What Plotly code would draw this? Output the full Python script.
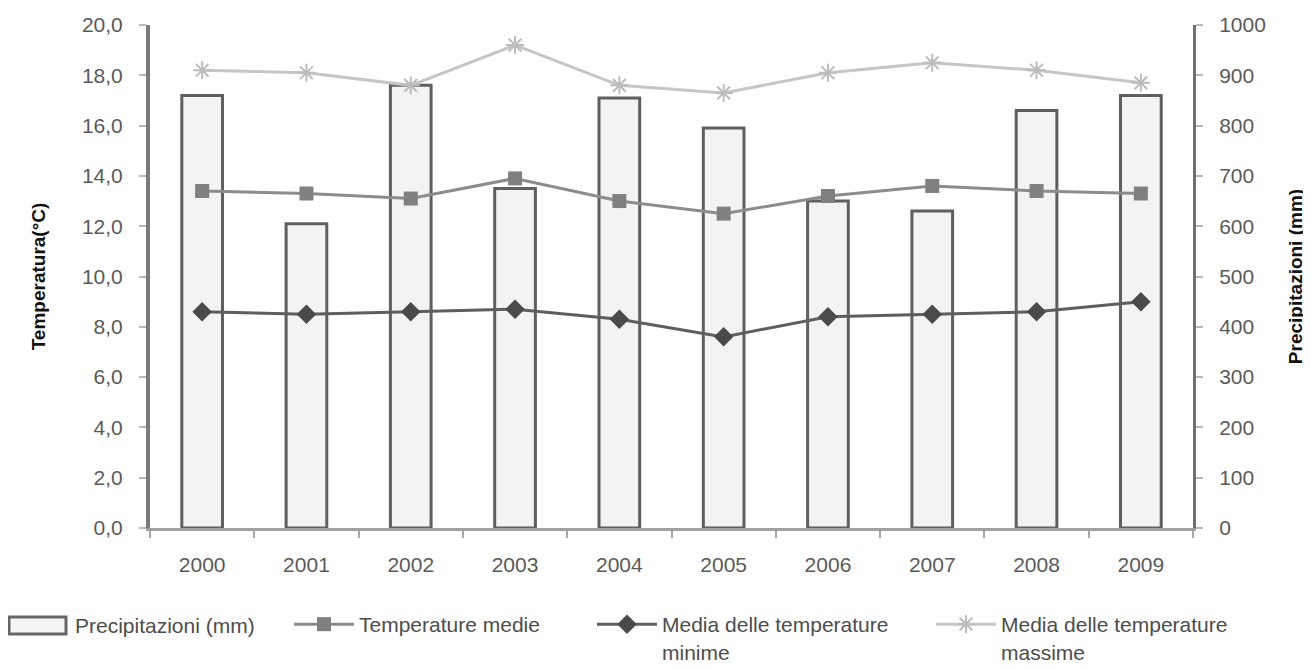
import plotly.graph_objects as go

years = ["2000", "2001", "2002", "2003", "2004", "2005", "2006", "2007", "2008", "2009"]
precipitazioni = [860, 605, 880, 675, 855, 795, 650, 630, 830, 860]
temp_medie = [13.4, 13.3, 13.1, 13.9, 13.0, 12.5, 13.2, 13.6, 13.4, 13.3]
temp_minime = [8.6, 8.5, 8.6, 8.7, 8.3, 7.6, 8.4, 8.5, 8.6, 9.0]
temp_massime = [18.2, 18.1, 17.6, 19.2, 17.6, 17.3, 18.1, 18.5, 18.2, 17.7]

left_ticks = [0, 2, 4, 6, 8, 10, 12, 14, 16, 18, 20]
right_ticks = [0, 100, 200, 300, 400, 500, 600, 700, 800, 900, 1000]

FONT = "Liberation Sans, Arial, sans-serif"
W, H = 1311, 669
OFF = 8  # page body margin offset
L, R, T, B = 142, 126, 17, 149
PW, PH = W - L - R, H - T - B


def px_x(sx):
    return (sx - OFF - L) / PW


def px_y(sy):
    return (H - B - (sy - OFF)) / PH


def leg_x(text_screen_x):
    return (text_screen_x - 79 - L) / PW


fig = go.Figure()
fig.add_trace(go.Bar(
    x=years, y=precipitazioni, name="Precipitazioni (mm)", yaxis="y",
    marker=dict(color="#f3f3f3", line=dict(color="#5f5f5f", width=3)),
    width=0.39, showlegend=False,
))
fig.add_trace(go.Scatter(
    x=years, y=temp_medie, name="Temperature medie", yaxis="y2", mode="lines+markers",
    line=dict(color="#8c8c8c", width=3),
    marker=dict(symbol="square", size=14, color="#808080"),
    legend="legend2",
))
fig.add_trace(go.Scatter(
    x=years, y=temp_minime, name="Media delle temperature<br>minime", yaxis="y2", mode="lines+markers",
    line=dict(color="#5e5e5e", width=3),
    marker=dict(symbol="diamond", size=15, color="#4a4a4a"),
    legend="legend3",
))
fig.add_trace(go.Scatter(
    x=years, y=temp_massime, name="Media delle temperature<br>massime", yaxis="y2", mode="lines+markers",
    line=dict(color="#c6c6c6", width=3),
    marker=dict(symbol="asterisk-open", size=15, color="#bcbcbc", line=dict(color="#bcbcbc", width=2)),
    legend="legend4",
))

leg_common = dict(
    orientation="h", yref="container", y=1 - 596 / H, yanchor="top", xanchor="left",
    font=dict(size=21, color="#4d4d4d", family=FONT), itemwidth=60,
    bgcolor="rgba(0,0,0,0)", valign="top",
)

fig.update_layout(
    width=W, height=H,
    paper_bgcolor="white", plot_bgcolor="white",
    margin=dict(l=L, r=R, t=T, b=B, autoexpand=False),
    font=dict(family=FONT, size=21, color="#5a5a5a"),
    separators=", ",
    showlegend=True,
    xaxis=dict(
        type="category", showline=True, linecolor="#a0a0a0", linewidth=3,
        ticks="outside", ticklen=7, tickcolor="#a8a8a8", tickwidth=2, tickson="boundaries",
        showgrid=False, tickfont=dict(size=21, color="#5a5a5a"), ticklabelstandoff=16,
        range=[-0.5, 9.5], automargin=False,
    ),
    yaxis=dict(
        side="right", range=[0, 1000], tickvals=right_ticks,
        showline=True, linecolor="#707070", linewidth=3,
        ticks="outside", ticklen=7, tickcolor="#b8b8b8", tickwidth=2, showgrid=False, zeroline=False,
        tickfont=dict(size=21, color="#5a5a5a"), ticklabelstandoff=12, automargin=False,
        title=dict(text="<b>Precipitazioni (mm)</b>", font=dict(size=19, color="#111111"), standoff=24),
    ),
    yaxis2=dict(
        side="left", overlaying="y", range=[0, 20], tickvals=left_ticks, tickformat=".1f",
        showline=True, linecolor="#7a7a7a", linewidth=4,
        ticks="outside", ticklen=7, tickcolor="#b8b8b8", tickwidth=2, showgrid=False, zeroline=False,
        tickfont=dict(size=21, color="#5a5a5a"), ticklabelstandoff=12, automargin=False,
        title=dict(text="<b>Temperatura(°C)</b>", font=dict(size=19, color="#111111"), standoff=32),
    ),
    legend2=dict(x=leg_x(360), **leg_common),
    legend3=dict(x=leg_x(663), **leg_common),
    legend4=dict(x=leg_x(1002), **leg_common),
    shapes=[dict(
        type="rect", xref="paper", yref="paper",
        x0=px_x(9), x1=px_x(66), y0=px_y(617), y1=px_y(634),
        line=dict(color="#666666", width=3), fillcolor="#f5f5f5",
    )],
    annotations=[dict(
        text="Precipitazioni (mm)", xref="paper", yref="paper",
        x=px_x(73), y=px_y(625), xanchor="left", yanchor="middle", showarrow=False,
        font=dict(size=21, color="#4d4d4d", family=FONT),
    )],
)

fig.write_html("out.html")
